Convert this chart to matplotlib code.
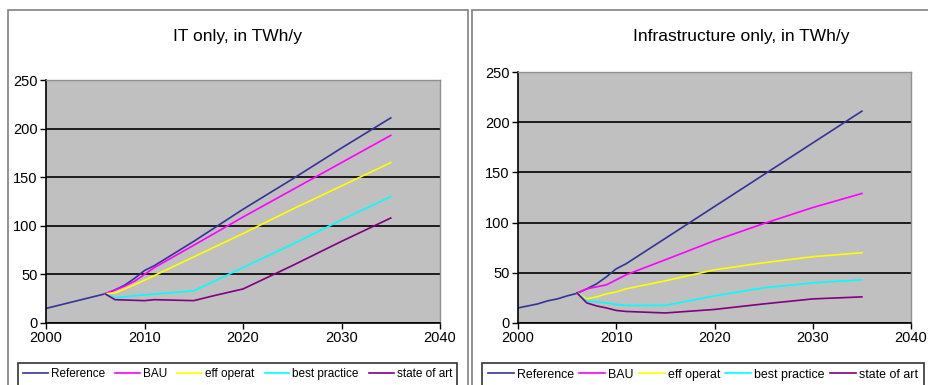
import matplotlib.pyplot as plt
from matplotlib.patches import Rectangle

plt.rcParams['font.family'] = ['Liberation Sans', 'DejaVu Sans']

# IT only, in TWh/y
it_ref_years = [2000, 2006, 2007, 2008, 2009, 2010, 2011, 2015, 2020, 2025, 2030, 2035]
it_ref = [15, 30, 34, 39, 46, 54, 59, 84, 117, 148, 180, 211]
it_bau_years = [2006, 2007, 2008, 2009, 2010, 2011, 2015, 2020, 2025, 2030, 2035]
it_bau = [30, 34, 38, 43, 50, 57, 80, 109, 137, 165, 193]
it_eff_years = [2006, 2007, 2008, 2009, 2010, 2015, 2020, 2025, 2030, 2035]
it_eff = [30, 31, 35, 39.5, 44, 68, 92, 117, 141, 165]
it_best_years = [2006, 2007, 2008, 2010, 2015, 2020, 2025, 2030, 2035]
it_best = [30, 26, 27, 29, 33, 57, 81, 106, 130]
it_soa_years = [2006, 2007, 2010, 2011, 2015, 2017, 2020, 2025, 2030, 2035]
it_soa = [30, 24, 23, 24, 23, 28, 35, 59, 84, 108]

# Infrastructure only, in TWh/y
inf_ref_years = [2000, 2001, 2002, 2003, 2004, 2005, 2006, 2007, 2008, 2009, 2010, 2011, 2035]
inf_ref = [15, 17, 19, 22, 24, 27, 29.5, 34, 39, 46, 54, 59, 211]
inf_bau_years = [2006, 2007, 2008, 2009, 2010, 2011, 2015, 2020, 2025, 2030, 2035]
inf_bau = [30, 34, 36, 38, 43, 48, 63, 82, 99, 115, 129]
inf_eff_years = [2006, 2007, 2008, 2009, 2010, 2011, 2015, 2020, 2025, 2030, 2035]
inf_eff = [30, 24, 26, 29, 31, 34, 42, 53, 60, 66, 70]
inf_best_years = [2006, 2007, 2008, 2009, 2010, 2011, 2015, 2020, 2025, 2030, 2035]
inf_best = [30, 22, 21, 20, 18.5, 17.5, 17.5, 27, 35, 40, 43]
inf_soa_years = [2006, 2007, 2008, 2009, 2010, 2011, 2015, 2020, 2025, 2030, 2035]
inf_soa = [30, 20, 17, 15, 12.5, 11.5, 10, 13.5, 19, 24, 26]

labels = ['Reference', 'BAU', 'eff operat', 'best practice', 'state of art']
colors = ['#333399', '#FF00FF', '#FFFF00', '#00FFFF', '#800080']
titles = ['IT only, in TWh/y', 'Infrastructure only, in TWh/y']

W, H = 929, 385
fig = plt.figure(figsize=(W / 100, H / 100), dpi=100)

# chart frames
for x0, x1 in [(8, 468), (472, 940)]:
    fig.patches.append(Rectangle((x0 / W, -0.1), (x1 - x0) / W, 1.1 - 10 / H,
                                 transform=fig.transFigure, fill=False,
                                 edgecolor='#808080', linewidth=1.2))

panels = [
    ([46, 440, 80, 323], [(it_ref_years, it_ref), (it_bau_years, it_bau), (it_eff_years, it_eff),
                          (it_best_years, it_best), (it_soa_years, it_soa)], 238, 18, 8.5, 0.86),
    ([518, 911, 72, 323], [(inf_ref_years, inf_ref), (inf_bau_years, inf_bau), (inf_eff_years, inf_eff),
                           (inf_best_years, inf_best), (inf_soa_years, inf_soa)], 741, 482, 8.9, 0.42),
]

for i, (box, series, tx, lx, fs, cs) in enumerate(panels):
    l, r, t, b = box
    ax = fig.add_axes([l / W, (H - b) / H, (r - l) / W, (b - t) / H])
    ax.set_facecolor('#C0C0C0')
    for (xs, ys), c, lab in zip(series, colors, labels):
        ax.plot(xs, ys, color=c, linewidth=1.2, label=lab)
    ax.set_xlim(2000, 2040)
    ax.set_ylim(0, 250)
    ax.set_xticks([2000, 2010, 2020, 2030, 2040])
    ax.set_yticks([0, 50, 100, 150, 200, 250])
    ax.yaxis.grid(True, color='black', linewidth=1.2)
    ax.set_axisbelow(True)
    ax.tick_params(direction='out', length=4, width=1, labelsize=10.5,
                   colors='black', pad=2)
    for s in ['left', 'bottom']:
        ax.spines[s].set_color('black')
        ax.spines[s].set_linewidth(1.2)
    for s in ['top', 'right']:
        ax.spines[s].set_color('#909090')
        ax.spines[s].set_linewidth(1)
    fig.text(tx / W, 1 - 36 / H, titles[i], ha='center', va='center', fontsize=12.5)
    leg = fig.legend(handles=ax.get_lines(), loc='upper left',
                     bbox_to_anchor=(lx / W, 1 - 363 / H),
                     borderaxespad=0, ncol=5, fontsize=fs,
                     frameon=True, fancybox=False, edgecolor='black',
                     handlelength=2.1, handletextpad=0.25, columnspacing=cs,
                     borderpad=0.45)
    leg.get_frame().set_linewidth(1.2)

fig.savefig('out.png', dpi=100)
